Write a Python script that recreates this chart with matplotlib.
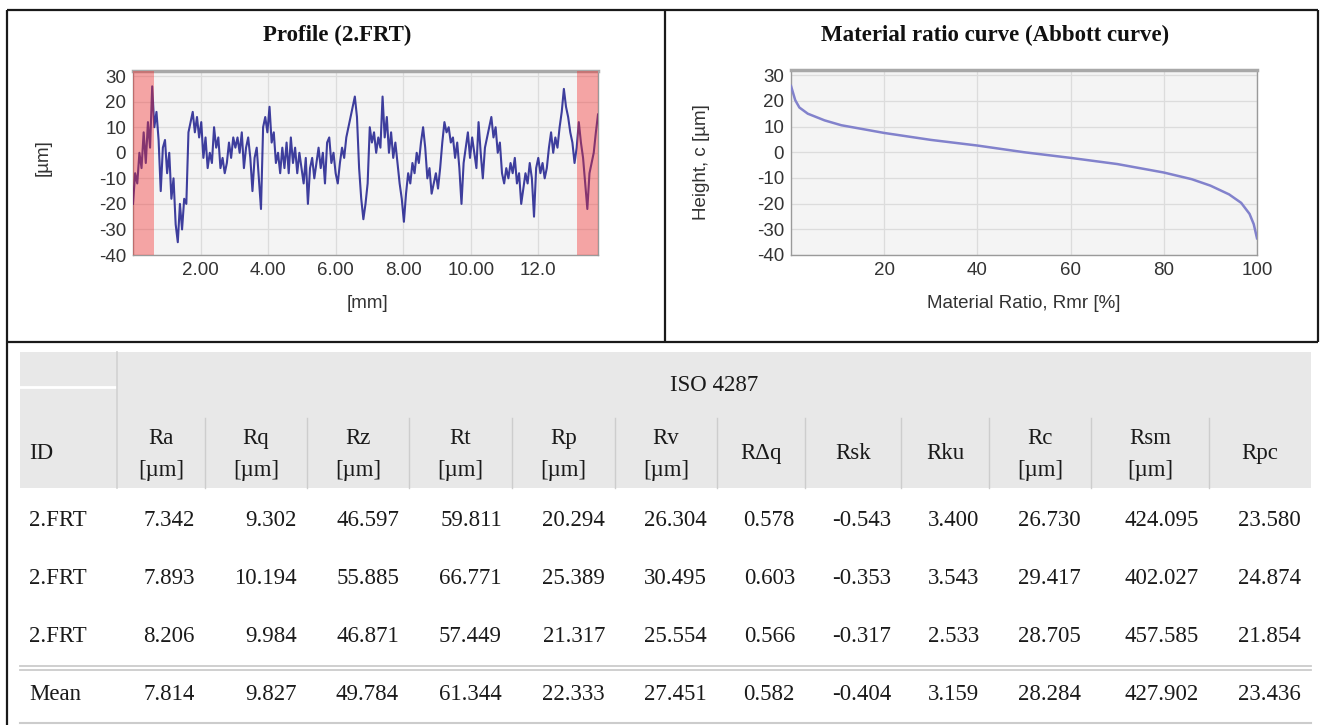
import numpy as np
import matplotlib
matplotlib.use("Agg")
import matplotlib.pyplot as plt
from matplotlib.patches import Rectangle

plt.rcParams["axes.unicode_minus"] = False

# ---------------- data ----------------
# roughness profile heights [µm], sampled evenly along the evaluation length
profile_um = [
    -20, -8, -12, 0, -6, 8, -4, 12, 2, 26, 10, 16, 5, -15, 2, 5, -8, 0, -18, -10,
    -28, -35, -20, -30, -18, -20, 8, 12, 16, 8, 14, 6, 12, -2, 6, -6, 0, -4, 10, 2,
    6, -6, -2, -8, -4, 4, -2, 6, 2, 6, 0, 8, -6, 2, 6, -2, -15, -2, 2, -10,
    -22, 10, 14, 8, 18, 4, 8, -4, 0, -8, 2, -6, 4, -8, 6, -4, 2, -8, 0, -6,
    -12, -2, -20, -6, -2, -10, -4, 2, -6, 0, -12, 4, 6, -4, 0, -8, -12, -4, 2, -2,
    6, 10, 14, 18, 22, 14, -6, -18, -26, -20, -12, 10, 4, 8, 0, 6, 2, 22, 6, 14,
    0, 8, -2, 4, -4, -12, -18, -27, -16, -8, -12, -4, -8, 0, -4, 4, 10, 2, -10, -6,
    -16, -12, -8, -14, -6, 4, 12, 8, 10, 4, 6, -2, 4, -6, -20, -4, 2, 8, -2, 6,
    0, -6, 12, 0, -10, 2, 6, 10, 14, 6, 10, 0, 4, -8, -12, -6, -10, -4, -8, -2,
    -12, -8, -20, -14, -8, -12, -4, -10, -25, -6, -2, -8, -4, -10, -6, 2, 8, 0, 6, 2,
    10, 16, 25, 18, 14, 8, 4, -4, 2, 12, 4, -2, -12, -22, -8, -4, 0, 8, 15,
]
profile_length_mm = 13.77
cutoff_left_mm = 0.63
cutoff_right_mm = 13.14
profile_xticks = [2, 4, 6, 8, 10, 12]
profile_xticklabels = ["2.00", "4.00", "6.00", "8.00", "10.00", "12.0"]
height_ticks = [30, 20, 10, 0, -10, -20, -30, -40]

# Abbott (material ratio) curve
abbott_rmr = [0, 0.9, 1.8, 3.6, 7.2, 10.8, 20, 30, 40, 50, 60, 70, 80, 86, 90, 94, 96.6, 98.4, 99.3, 100]
abbott_height = [25.8, 20.3, 17.4, 15.0, 12.4, 10.5, 7.5, 4.8, 2.6, 0.0, -2.2, -4.6, -7.9, -10.5, -13.0, -16.4, -19.7, -24.0, -28.0, -33.5]
abbott_xticks = [20, 40, 60, 80, 100]

# table
table_group = "ISO 4287"
param_names = ["Ra", "Rq", "Rz", "Rt", "Rp", "Rv", "R\u0394q", "Rsk", "Rku", "Rc", "Rsm", "Rpc"]
param_units = ["[\u00b5m]"] * 6 + ["", "", "", "[\u00b5m]", "[\u00b5m]", ""]
row_ids = ["2.FRT", "2.FRT", "2.FRT"]
row1 = ["7.342", "9.302", "46.597", "59.811", "20.294", "26.304", "0.578", "-0.543", "3.400", "26.730", "424.095", "23.580"]
row2 = ["7.893", "10.194", "55.885", "66.771", "25.389", "30.495", "0.603", "-0.353", "3.543", "29.417", "402.027", "24.874"]
row3 = ["8.206", "9.984", "46.871", "57.449", "21.317", "25.554", "0.566", "-0.317", "2.533", "28.705", "457.585", "21.854"]
mean_label = "Mean"
mean_row = ["7.814", "9.827", "49.784", "61.344", "22.333", "27.451", "0.582", "-0.404", "3.159", "28.284", "427.902", "23.436"]

# ---------------- layout ----------------
W, H = 1324, 725
fig = plt.figure(figsize=(W / 100, H / 100), dpi=100)
fig.patch.set_facecolor("white")

SANS = ["Liberation Sans", "DejaVu Sans"]
SERIF = ["Liberation Serif", "DejaVu Serif"]
TICK_FS = 13.5

bg = fig.add_axes([0, 0, 1, 1], zorder=0)
bg.set_xlim(0, W)
bg.set_ylim(H, 0)
bg.axis("off")


def px_axes(x0, y0, x1, y1):
    return fig.add_axes([x0 / W, 1 - y1 / H, (x1 - x0) / W, (y1 - y0) / H], zorder=2)


def style_axes(ax):
    ax.set_facecolor("#f4f4f4")
    ax.grid(True, color="#dcdcdc", lw=0.9)
    ax.set_axisbelow(True)
    for s in ["left", "right", "bottom"]:
        ax.spines[s].set_color("#9a9a9a")
        ax.spines[s].set_linewidth(1.0)
    ax.spines["top"].set_color("#a8a8a8")
    ax.spines["top"].set_linewidth(2.5)
    ax.tick_params(length=0, pad=5, labelsize=TICK_FS, labelcolor="#333333")
    for lab in ax.get_xticklabels() + ax.get_yticklabels():
        lab.set_family(SANS)


# outer frame
frame_kw = dict(color="#1a1a1a", lw=1.6, solid_capstyle="butt")
bg.plot([7, 1318], [10, 10], **frame_kw)
bg.plot([7, 7], [10, 725], **frame_kw)
bg.plot([1318, 1318], [10, 342], **frame_kw)
bg.plot([7, 1318], [342, 342], **frame_kw)
bg.plot([665, 665], [10, 342], **frame_kw)

# ---- profile chart ----
ax1 = px_axes(133, 71, 598, 255)
x_mm = np.linspace(0, profile_length_mm, len(profile_um))
ax1.plot(x_mm, profile_um, color="#101088", lw=1.5, alpha=0.8, zorder=3)
ax1.axvspan(0, cutoff_left_mm, color="#f42828", alpha=0.39, lw=0, zorder=4)
ax1.axvspan(cutoff_right_mm, profile_length_mm, color="#f42828", alpha=0.39, lw=0, zorder=4)
ax1.set_xlim(0, profile_length_mm)
ax1.set_ylim(-40, 32)
ax1.set_yticks(height_ticks)
ax1.set_xticks(profile_xticks)
ax1.set_xticklabels(profile_xticklabels)
style_axes(ax1)

bg.text(337, 35, "Profile (2.FRT)", ha="center", va="center", fontsize=16.5,
        fontweight="bold", family=SERIF, color="#111111")
bg.text(43, 158, "[\u00b5m]", ha="center", va="center", rotation=90,
        fontsize=TICK_FS, family=SANS, color="#333333")
bg.text(367, 303, "[mm]", ha="center", va="center", fontsize=TICK_FS,
        family=SANS, color="#333333")

# ---- Abbott curve ----
ax2 = px_axes(791, 70, 1257, 255)
ax2.plot(abbott_rmr, abbott_height, color="#8282cc", lw=1.8, zorder=3)
ax2.set_xlim(0, 100)
ax2.set_ylim(-40, 32)
ax2.set_yticks(height_ticks)
ax2.set_xticks(abbott_xticks)
style_axes(ax2)

bg.text(995, 35, "Material ratio curve (Abbott curve)", ha="center", va="center",
        fontsize=16.5, fontweight="bold", family=SERIF, color="#111111")
bg.text(701, 162, "Height, c [\u00b5m]", ha="center", va="center", rotation=90,
        fontsize=TICK_FS, family=SANS, color="#333333")
bg.text(1024, 303, "Material Ratio, Rmr [%]", ha="center", va="center",
        fontsize=TICK_FS, family=SANS, color="#333333")

# ---- table ----
col_edges = [117, 205, 307, 409, 512, 615, 717, 805, 901, 989, 1091, 1209, 1311]
tbl_left, tbl_right = 20, 1311
head_top, head_bot = 352, 488
row_y = [520, 578, 636]
mean_y = 694
tfs = 16.5
tcol = "#1a1a1a"

bg.add_patch(Rectangle((tbl_left, head_top), tbl_right - tbl_left, head_bot - head_top,
                       facecolor="#e8e8e8", edgecolor="none", zorder=1))
bg.plot([tbl_left, col_edges[0] - 2], [387, 387], color="white", lw=2, zorder=2)
bg.plot([col_edges[0], col_edges[0]], [head_top, head_bot], color="#d2d2d2", lw=1.2, zorder=2)
for xe in col_edges[1:-1]:
    bg.plot([xe, xe], [418, head_bot], color="#cdcdcd", lw=1.0, zorder=2)

bg.text((col_edges[0] + col_edges[-1]) / 2, 385, table_group, ha="center", va="center",
        fontsize=tfs, family=SERIF, color=tcol, zorder=3)
bg.text(29, 453, "ID", ha="left", va="center", fontsize=tfs, family=SERIF, color=tcol, zorder=3)

for i, (name, unit) in enumerate(zip(param_names, param_units)):
    cx = (col_edges[i] + col_edges[i + 1]) / 2
    if unit:
        bg.text(cx, 438, name, ha="center", va="center", fontsize=tfs, family=SERIF, color=tcol, zorder=3)
        bg.text(cx, 470, unit, ha="center", va="center", fontsize=tfs, family=SERIF, color=tcol, zorder=3)
    else:
        bg.text(cx, 453, name, ha="center", va="center", fontsize=tfs, family=SERIF, color=tcol, zorder=3)

for y, rid, vals in zip(row_y, row_ids, [row1, row2, row3]):
    bg.text(29, y, rid, ha="left", va="center", fontsize=tfs, family=SERIF, color=tcol)
    for i, v in enumerate(vals):
        bg.text(col_edges[i + 1] - 10, y, v, ha="right", va="center", fontsize=tfs,
                family=SERIF, color=tcol)

bg.plot([tbl_left, tbl_right], [666, 666], color="#cccccc", lw=1.3)
bg.plot([tbl_left, tbl_right], [670, 670], color="#cccccc", lw=1.3)
bg.text(29, mean_y, mean_label, ha="left", va="center", fontsize=tfs, family=SERIF, color=tcol)
for i, v in enumerate(mean_row):
    bg.text(col_edges[i + 1] - 10, mean_y, v, ha="right", va="center", fontsize=tfs,
            family=SERIF, color=tcol)
bg.plot([tbl_left, tbl_right], [723, 723], color="#cccccc", lw=1.5)

fig.savefig("out.png", dpi=100, facecolor="white")
